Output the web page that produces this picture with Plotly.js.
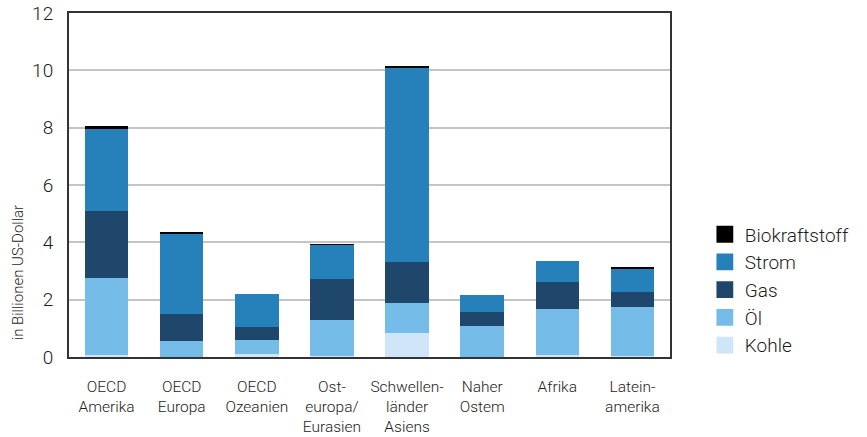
<!DOCTYPE html>
<html>
<head>
<meta charset="utf-8">
<script src="https://cdn.plot.ly/plotly-3.0.1.min.js"></script>
<style>
  html, body { margin: 0; padding: 0; background: #fff; }
  #chart { width: 867px; height: 437px; }
</style>
</head>
<body>
<div id="chart"></div>
<script>
// Regions (multi-line tick labels)
const regions = [
  'OECD<br>Amerika',
  'OECD<br>Europa',
  'OECD<br>Ozeanien',
  'Ost-<br>europa/<br>Eurasien',
  'Schwellen-<br>länder<br>Asiens',
  'Naher<br>Ostem',
  'Afrika',
  'Latein-<br>amerika'
];

// Values in Billionen US-Dollar, per energy carrier
const kohle         = [0.07, 0.01, 0.12, 0.04, 0.84, 0.00, 0.06, 0.03];
const oel           = [2.69, 0.56, 0.47, 1.25, 1.04, 1.08, 1.61, 1.71];
const gas           = [2.33, 0.94, 0.46, 1.43, 1.43, 0.49, 0.95, 0.53];
const strom         = [2.86, 2.79, 1.15, 1.19, 6.77, 0.59, 0.73, 0.80];
const biokraftstoff = [0.10, 0.07, 0.00, 0.03, 0.07, 0.00, 0.00, 0.07];

const yTicks = [0, 2, 4, 6, 8, 10, 12];

const series = [
  { name: 'Kohle',         y: kohle,         color: '#cfe5f8' },
  { name: 'Öl',            y: oel,           color: '#75bde8' },
  { name: 'Gas',           y: gas,           color: '#1f476c' },
  { name: 'Strom',         y: strom,         color: '#2680b9' },
  { name: 'Biokraftstoff', y: biokraftstoff, color: '#000000' }
];

const traces = series.map(s => ({
  type: 'bar',
  name: s.name,
  x: regions,
  y: s.y,
  legendgroup: s.name,
  marker: { color: s.color, line: { width: 0 } },
  hoverinfo: 'x+y+name'
}));

const fontFamily = 'Roboto, "Open Sans", sans-serif';
const textColor = '#1c1c1c';

const layout = {
  width: 867,
  height: 437,
  margin: { l: 69, r: 195, t: 13, b: 80 },
  paper_bgcolor: '#ffffff',
  plot_bgcolor: '#ffffff',
  barmode: 'stack',
  bargap: 0.42,
  font: { family: fontFamily, color: textColor, weight: 300 },
  showlegend: true,
  legend: {
    x: 1.058, xanchor: 'left',
    y: 0.195, yanchor: 'middle',
    traceorder: 'reversed',
    tracegroupgap: 6.5,
    font: { size: 19, color: textColor, family: fontFamily, weight: 300 },
    bgcolor: 'rgba(0,0,0,0)'
  },
  xaxis: {
    type: 'category',
    showline: true, mirror: true,
    linecolor: '#333333', linewidth: 2,
    showgrid: false,
    ticks: '',
    ticklabelstandoff: 14,
    tickfont: { size: 15.5, family: fontFamily, color: textColor, weight: 300 },
    fixedrange: true
  },
  yaxis: {
    range: [0, 12],
    tickvals: yTicks,
    ticktext: yTicks.map(String),
    showline: true, mirror: true,
    linecolor: '#333333', linewidth: 2,
    showgrid: true, gridcolor: '#c4c4c4', gridwidth: 2,
    zeroline: false,
    ticks: '',
    ticklabelstandoff: 10,
    tickfont: { size: 19, family: fontFamily, color: textColor, weight: 300 },
    fixedrange: true
  },
  annotations: [{
    text: 'in Billionen US-Dollar',
    xref: 'paper', yref: 'paper',
    x: -0.0846, y: 0.244,
    xanchor: 'center', yanchor: 'middle',
    textangle: -90,
    showarrow: false,
    font: { size: 15, family: fontFamily, color: textColor, weight: 300 }
  }]
};

Plotly.newPlot('chart', traces, layout, { displayModeBar: false, staticPlot: true }).then(gd => {
  // slightly larger legend swatches, keeping their existing placement
  document.querySelectorAll('.legendpoints path').forEach(p => {
    const t = p.getAttribute('transform') || '';
    p.setAttribute('transform', (t + ' scale(1.4)').trim());
  });
});
</script>
</body>
</html>
